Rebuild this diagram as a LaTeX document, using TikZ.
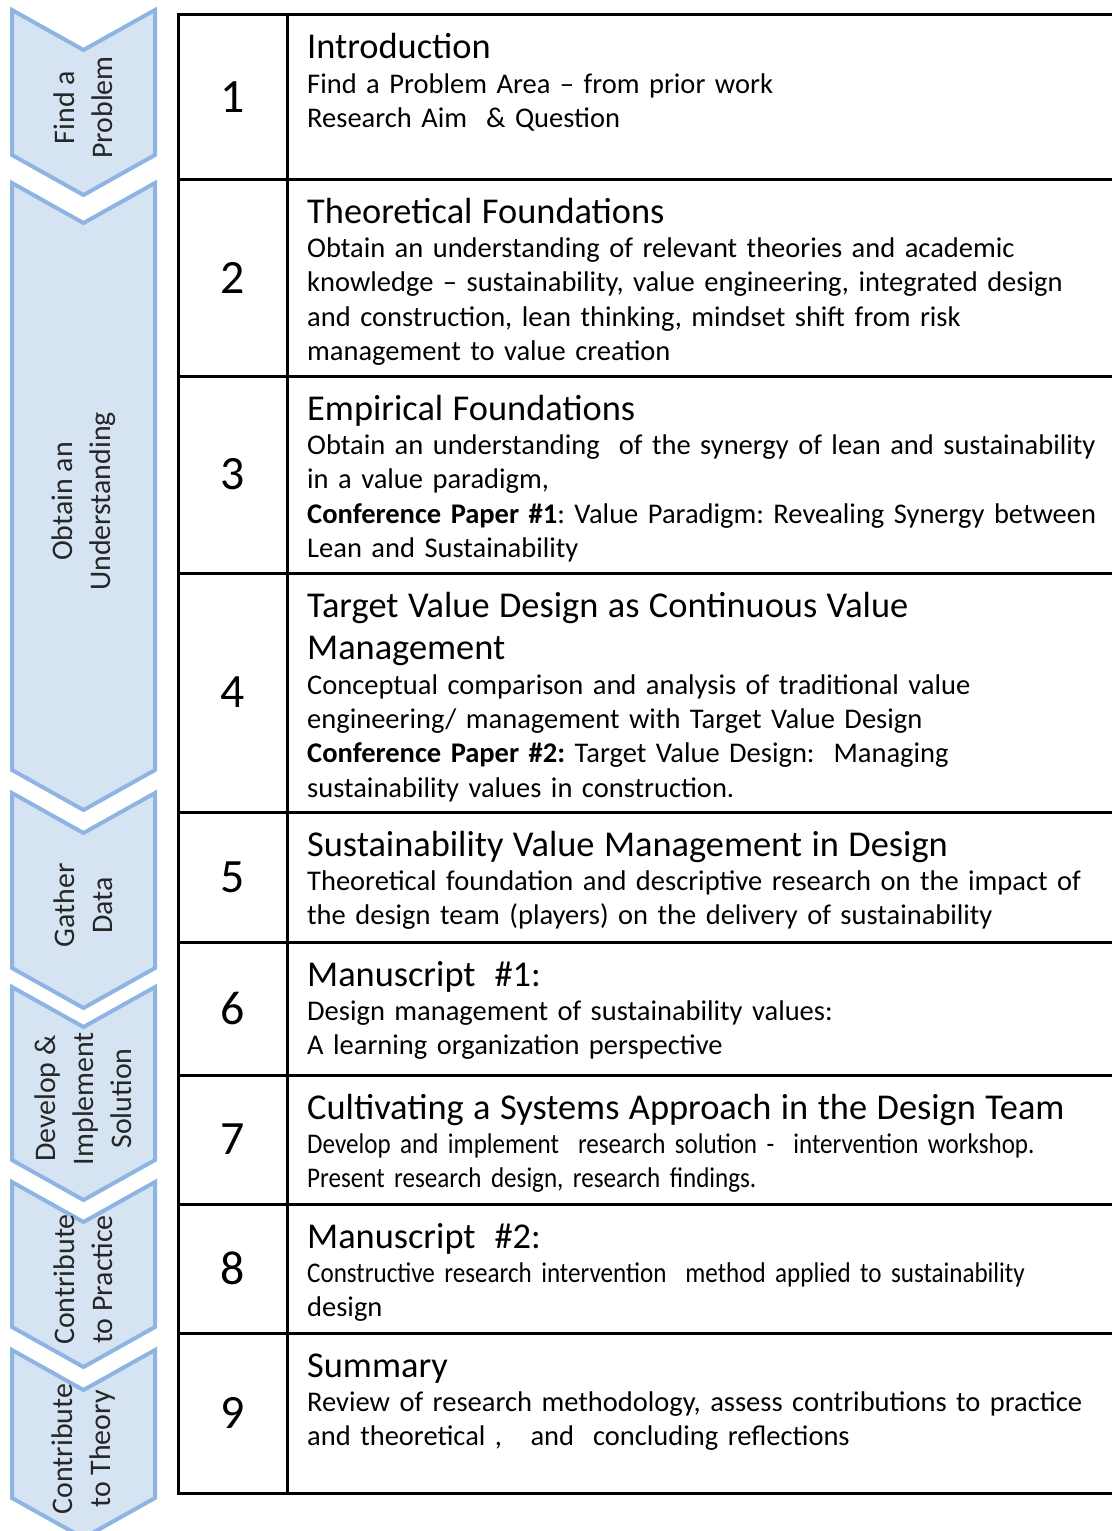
\documentclass[tikz,border=0pt]{standalone}
\usepackage{fontspec}
\setmainfont{Carlito}
\newfontfamily\narrowfont[FakeStretch=0.88]{Carlito}
\frenchspacing
\definecolor{chevfill}{RGB}{214,227,243}
\definecolor{chevline}{RGB}{141,180,226}
\newcommand{\rowtitle}[1]{{\fontsize{36.5}{34.5}\selectfont #1}}
\tikzset{
  chev/.style={fill=chevfill,draw=chevline,line width=4bp,line join=miter},
  chevtext/.style={rotate=90,align=center,text=black!85,font=\fontsize{30}{38}\selectfont},
  numtext/.style={font=\fontsize{48}{48}\selectfont},
  rowtext/.style={anchor=base west,inner sep=0pt,text width=830bp,align=left,font=\fontsize{28.6}{34.5}\selectfont},
  tabline/.style={line width=3bp,black}
}
\begin{document}
\begin{tikzpicture}[x=1bp,y=-1bp]
    \useasboundingbox (0,0) rectangle (1112,1531);
    % 左侧箭头
    \foreach \ya/\yb/\name/\txt in {10/155/c1/{Find a\\Problem},
        183/770/c2/{Obtain an\\Understanding},
        793/968/c3/{Gather\\Data},
        987/1160/c4/{Develop \&\\Implement\\Solution},
        1182/1327/c5/{Contribute\\to Practice},
        1350/1498/c6/{Contribute\\to Theory}} {
      \draw[chev] (12,\ya) -- (83.5,\ya+40) -- (155,\ya) -- (155,\yb) -- (83.5,\yb+40) -- (12,\yb) -- cycle;
      \node[chevtext] (\name) at (83.5,{(\ya+\yb)/2+25}) {\txt};
    }
    % 表格
    \draw[tabline] (1112,15) -- (178,15) -- (178,1493) -- (1112,1493);
    \draw[tabline] (287,15) -- (287,1493);
    \foreach \y in {179,376,573,812,942,1075,1204,1333}
      \draw[tabline] (178,\y) -- (1112,\y);
    % 编号
    \foreach \n/\y in {1/97,2/277.5,3/474.5,4/692.5,5/877,6/1008.5,7/1139.5,8/1268.5,9/1413}
      \node[numtext] (n\n) at (232.5,\y) {\n};
    % 各章内容
    \node[rowtext] (r1) at (307,59) {\rowtitle{Introduction}\\
      Find a Problem Area -- from prior work\\
      Research Aim\ \ \& Question};
    \node[rowtext] (r2) at (307,223) {\rowtitle{Theoretical Foundations}\\
      Obtain an understanding of relevant theories and academic\\
      knowledge -- sustainability, value engineering,\ integrated design\\
      and construction, lean thinking, mindset shift from risk\\
      management to value creation};
    \node[rowtext] (r3) at (307,420) {\rowtitle{Empirical Foundations}\\
      Obtain an understanding\ \ of the synergy of lean and sustainability\\
      in a value paradigm,\\
      \textbf{Conference Paper \#1}: Value Paradigm: Revealing Synergy between\\
      Lean and Sustainability};
    \node[rowtext] (r4) at (307,617) {\rowtitle{Target Value\ Design as Continuous Value}\\[8.5bp]
      \rowtitle{Management}\\
      Conceptual comparison and analysis of traditional value\\
      engineering/ management with Target Value Design\\
      \textbf{Conference Paper \#2:} Target Value Design:\ \ Managing\\
      sustainability values in construction.};
    \node[rowtext] (r5) at (307,856) {\rowtitle{Sustainability Value Management in Design}\\
      Theoretical foundation and descriptive research on the impact of\\
      the design team (players) on the delivery of sustainability};
    \node[rowtext] (r6) at (307,986) {\rowtitle{Manuscript\ \ \#1:}\\
      Design management of sustainability values:\\
      A learning organization perspective};
    \node[rowtext] (r7) at (307,1119) {\rowtitle{Cultivating a Systems Approach in the Design Team}\\
      {\narrowfont Develop and implement\ \ research solution -\ \ intervention workshop.}\\
      {\narrowfont Present research design, research findings.}};
    \node[rowtext] (r8) at (307,1248) {\rowtitle{Manuscript\ \ \#2:}\\
      {\narrowfont Constructive research intervention\ \ method applied to sustainability}\\
      design};
    \node[rowtext] (r9) at (307,1377) {\rowtitle{Summary}\\
      Review\ of research methodology, assess contributions to practice\\
      and theoretical ,\ \ \ and\ \ concluding reflections};
\end{tikzpicture}
\end{document}
